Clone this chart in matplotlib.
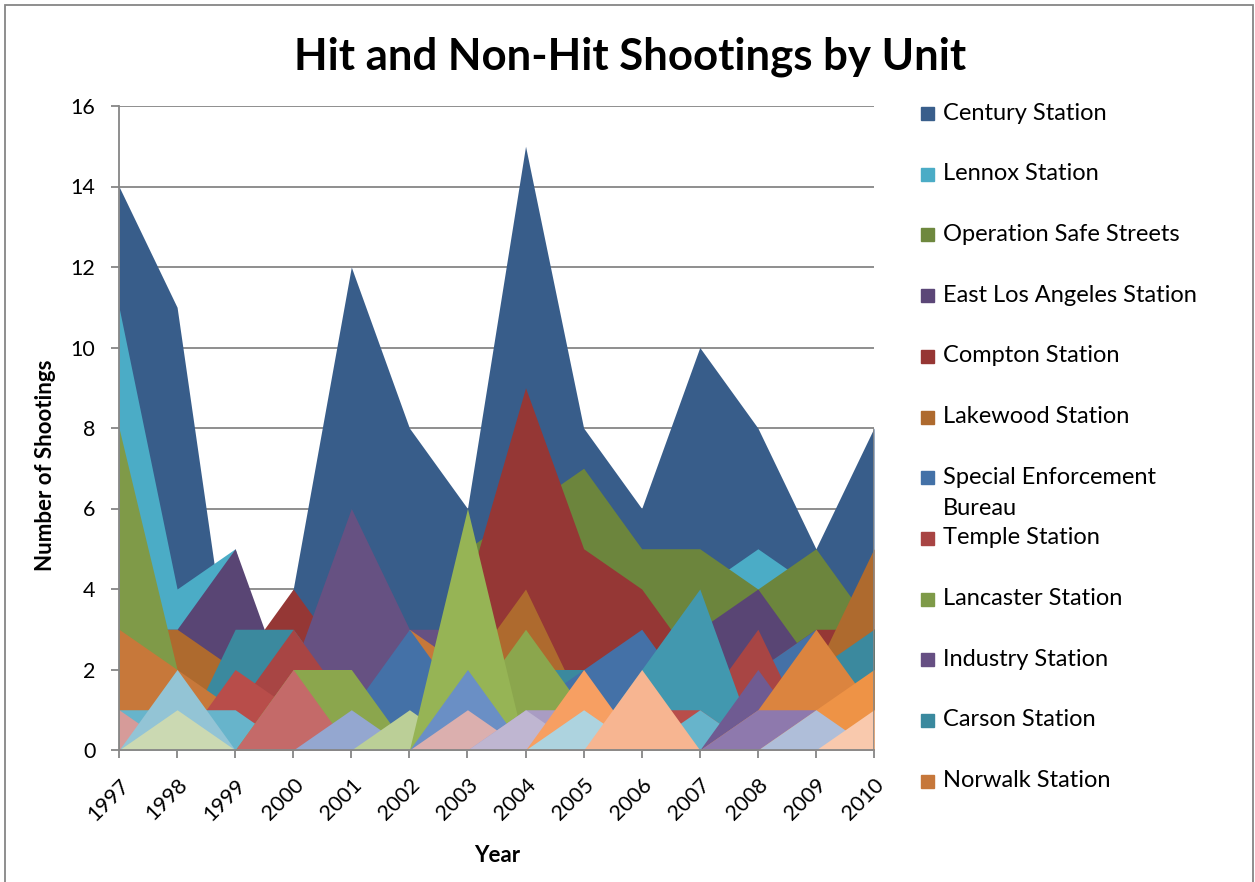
import matplotlib.pyplot as plt
from matplotlib.patches import Rectangle

# Years on the category axis
years = list(range(1997, 2011))

# Named units (legend order)
century = [14, 11, 1, 4, 12, 8, 6, 15, 8, 6, 10, 8, 5, 8]
lennox = [11, 4, 5, 0, 2, 2, 2, 2, 2, 3, 4, 5, 4, 3]
safe_streets = [0, 0, 0, 0, 0, 0, 5, 6, 7, 5, 5, 4, 5, 3]
east_la = [3, 3, 5, 1, 2, 2, 1, 1, 1, 2, 3, 4, 2, 2]
compton = [1, 1, 2, 4, 2, 2, 4, 9, 5, 4, 2, 2, 3, 3]
lakewood = [3, 3, 2, 1, 1, 2, 2, 4, 1, 1, 1, 1, 2, 5]
seb = [0, 0, 0, 0, 1, 3, 1, 1, 2, 3, 1, 2, 3, 0]
temple = [0, 0, 1, 3, 1, 0, 0, 0, 0, 0, 1, 3, 0, 0]
lancaster = [8, 2, 0, 0, 0, 0, 0, 0, 0, 0, 0, 0, 0, 0]
industry = [0, 0, 1, 2, 6, 3, 3, 1, 1, 1, 0, 0, 0, 0]
carson = [0, 0, 3, 3, 1, 0, 0, 2, 2, 0, 0, 0, 2, 3]
norwalk = [3, 2, 1, 0, 0, 3, 2, 0, 0, 0, 0, 0, 0, 0]

# Remaining units (not shown in the legend)
unit_13 = [0, 0, 0, 0, 0, 0, 0, 0, 0, 2, 4, 0, 0, 0]
unit_14 = [0, 0, 2, 1, 0, 0, 0, 0, 0, 1, 1, 0, 0, 0]
unit_15 = [1, 1, 1, 0, 0, 0, 0, 0, 0, 0, 1, 0, 0, 0]
unit_16 = [1, 0, 0, 0, 0, 0, 0, 0, 0, 0, 0, 0, 0, 0]
unit_17 = [0, 2, 0, 0, 0, 0, 0, 0, 0, 0, 0, 0, 0, 0]
unit_18 = [0, 1, 0, 0, 0, 0, 0, 0, 0, 0, 0, 0, 0, 0]
unit_19 = [0, 0, 0, 2, 2, 0, 1, 3, 1, 0, 0, 0, 0, 0]
unit_20 = [0, 0, 0, 2, 0, 0, 0, 0, 0, 0, 0, 0, 0, 0]
unit_21 = [0, 0, 0, 0, 1, 0, 0, 0, 0, 0, 0, 0, 0, 0]
unit_22 = [0, 0, 0, 0, 0, 1, 0, 0, 0, 0, 0, 0, 0, 0]
unit_23 = [0, 0, 0, 0, 0, 0, 6, 0, 0, 0, 0, 0, 0, 0]
unit_24 = [0, 0, 0, 0, 0, 0, 2, 0, 0, 0, 0, 0, 0, 0]
unit_25 = [0, 0, 0, 0, 0, 0, 1, 0, 0, 0, 0, 0, 0, 0]
unit_26 = [0, 0, 0, 0, 0, 0, 0, 1, 1, 0, 0, 0, 0, 0]
unit_27 = [0, 0, 0, 0, 0, 0, 0, 1, 0, 0, 0, 0, 0, 0]
unit_28 = [0, 0, 0, 0, 0, 0, 0, 0, 2, 0, 0, 0, 0, 0]
unit_29 = [0, 0, 0, 0, 0, 0, 0, 0, 1, 0, 0, 0, 0, 0]
unit_30 = [0, 0, 0, 0, 0, 0, 0, 0, 0, 2, 0, 0, 0, 0]
unit_31 = [0, 0, 0, 0, 0, 0, 0, 0, 0, 0, 0, 2, 0, 0]
unit_32 = [0, 0, 0, 0, 0, 0, 0, 0, 0, 0, 0, 1, 3, 1]
unit_33 = [0, 0, 0, 0, 0, 0, 0, 0, 0, 0, 0, 1, 1, 0]
unit_34 = [0, 0, 0, 0, 0, 0, 0, 0, 0, 0, 0, 0, 1, 0]
unit_35 = [0, 0, 0, 0, 0, 0, 0, 0, 0, 0, 0, 0, 1, 2]
unit_36 = [0, 0, 0, 0, 0, 0, 0, 0, 0, 0, 0, 0, 0, 1]

legend_names = ["Century Station", "Lennox Station", "Operation Safe Streets",
                "East Los Angeles Station", "Compton Station", "Lakewood Station",
                "Special Enforcement\nBureau", "Temple Station", "Lancaster Station",
                "Industry Station", "Carson Station", "Norwalk Station"]
legend_colors = ["#395E8B", "#4BACC6", "#6E883E", "#5B4677", "#963634", "#AE6A2E",
                 "#4371A7", "#A84443", "#7E9A48", "#664F83", "#3A899E", "#C6773A"]

# Drawing order, back to front (later areas hide earlier ones)
layers = [
    (century, "#385D8A"), (lennox, "#4BACC6"), (safe_streets, "#6C853D"),
    (east_la, "#594574"), (compton, "#953735"), (lakewood, "#AE6A2E"),
    (lancaster, "#7F9A48"), (carson, "#3B899E"), (industry, "#665182"),
    (norwalk, "#C7783A"), (seb, "#4471A7"), (temple, "#A84544"),
    (unit_13, "#4298AF"), (unit_14, "#B84D4A"), (unit_15, "#67B4CB"),
    (unit_16, "#D69B99"), (unit_17, "#93C4D5"), (unit_18, "#CBD9B2"),
    (unit_19, "#8BA64D"), (unit_20, "#C46A69"), (unit_21, "#94A7D0"),
    (unit_22, "#BBCF97"), (unit_23, "#96B455"), (unit_24, "#6A8FC5"),
    (unit_25, "#DBAFAE"), (unit_26, "#A99CC3"), (unit_27, "#BFB6D1"),
    (unit_28, "#F79F62"), (unit_29, "#ADD3DF"), (unit_30, "#F7B591"),
    (unit_31, "#6F5B92"), (unit_32, "#DB843F"), (unit_33, "#8E79AD"),
    (unit_35, "#EE9346"), (unit_34, "#AFBED9"), (unit_36, "#F9C9AD"),
]

plt.rcParams["font.family"] = ["Lato", "DejaVu Sans"]
W, H = 1255, 882
grey = "#868686"

fig = plt.figure(figsize=(W / 100, H / 100), dpi=100)
ax = fig.add_axes([119 / W, 1 - 750 / H, 755 / W, 644 / H])

x = list(range(len(years)))
for values, color in layers:
    ax.fill_between(x, 0, values, color=color, linewidth=0, zorder=2)

# Light edge on the right end of the areas
ax.vlines(x[-1], 0, max(v[-1] for v, _ in layers), color=grey, linewidth=1.2, zorder=3)

ax.set_xlim(0, len(years) - 1)
ax.set_ylim(0, 16)
ax.set_yticks(range(0, 17, 2))
ax.set_xticks(x)
ax.set_xticklabels([str(y) for y in years], rotation=45, ha="right", va="top",
                   rotation_mode="anchor")
ax.yaxis.grid(True, color=grey, linewidth=1.3, zorder=0)
ax.set_axisbelow(True)
for side in ["top", "right"]:
    ax.spines[side].set_visible(False)
for side in ["left", "bottom"]:
    ax.spines[side].set_color(grey)
    ax.spines[side].set_linewidth(1.3)
    ax.spines[side].set_zorder(4)
ax.tick_params(axis="y", length=6, width=1.3, color=grey, pad=11, labelsize=15.5)
ax.tick_params(axis="x", length=6, width=1.3, color=grey, pad=12, labelsize=15.5)

fig.text(630 / W, 1 - 57 / H, "Hit and Non-Hit Shootings by Unit", ha="center",
         va="center", fontsize=31.5, fontweight="bold")
fig.text(45 / W, 1 - 465 / H, "Number of Shootings", rotation=90, ha="center",
         va="center", fontsize=16, fontweight="bold")
fig.text(497 / W, 1 - 855 / H, "Year", ha="center", va="center", fontsize=16,
         fontweight="bold")

# Legend, laid out by hand like the spreadsheet one
row_top, row_step, line_step = 113, 60.7, 31
for i, (name, color) in enumerate(zip(legend_names, legend_colors)):
    yc = row_top + i * row_step
    fig.patches.append(Rectangle((921 / W, 1 - (yc + 7) / H), 13 / W, 13 / H,
                                 transform=fig.transFigure, color=color))
    for k, line in enumerate(name.split("\n")):
        fig.text(943 / W, 1 - (yc + k * line_step) / H, line, ha="left",
                 va="center", fontsize=17)

# Chart frame
fig.patches.append(Rectangle((5 / W, -0.1), 1248 / W, 1.1 - 5 / H,
                             transform=fig.transFigure, fill=False,
                             edgecolor=grey, linewidth=1.3))

fig.savefig("out.png", dpi=100)
